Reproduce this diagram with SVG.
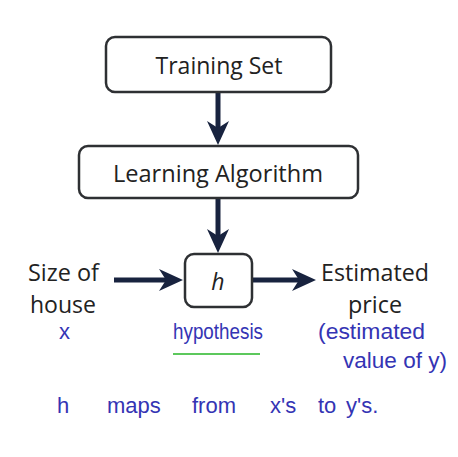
<svg xmlns="http://www.w3.org/2000/svg" width="458" height="457" viewBox="0 0 458 457">
<style>
.box{fill:#fff;stroke:#2e3033;stroke-width:2.5}
.lbl{font-family:"Open Sans","Liberation Sans",sans-serif;fill:#222;font-size:23px}
.hand{font-family:"Liberation Sans","DejaVu Sans",sans-serif;fill:#3434b4;font-size:22px}
.arr{stroke:#18233f;stroke-width:5;fill:none;marker-end:url(#ah)}
</style>
<defs>
<marker id="ah" viewBox="0 0 24 24" refX="7" refY="12" markerWidth="24" markerHeight="24" markerUnits="userSpaceOnUse" orient="auto">
<path d="M0,1 L24,12 L0,23 L7,12 Z" fill="#18233f"/>
</marker>
</defs>
<rect width="458" height="457" fill="#fff"/>
<g id="connectors">
<line class="arr" x1="218" y1="92" x2="218" y2="128"/>
<line class="arr" x1="218" y1="198" x2="218" y2="236"/>
<line class="arr" x1="114" y1="280" x2="166" y2="280"/>
<line class="arr" x1="252" y1="280" x2="299" y2="280"/>
</g>
<g id="training-set">
<rect class="box" x="106" y="37" width="225" height="55" rx="9"/>
<text class="lbl" x="219" y="74" text-anchor="middle" textLength="127" lengthAdjust="spacingAndGlyphs">Training Set</text>
</g>
<g id="learning-algorithm">
<rect class="box" x="79" y="146" width="279" height="52" rx="9"/>
<text class="lbl" x="218" y="182" text-anchor="middle" textLength="210" lengthAdjust="spacingAndGlyphs">Learning Algorithm</text>
</g>
<g id="h">
<rect class="box" x="185" y="254" width="67" height="53" rx="9"/>
<text class="lbl" x="218" y="290" text-anchor="middle" font-style="italic" font-size="25">h</text>
</g>
<g id="input">
<text class="lbl" x="28" y="281" textLength="71" lengthAdjust="spacingAndGlyphs">Size of</text>
<text class="lbl" x="30" y="313" textLength="66" lengthAdjust="spacingAndGlyphs">house</text>
<text class="hand" x="59" y="339" font-size="20">x</text>
</g>
<g id="output">
<text class="lbl" x="321" y="281" textLength="108" lengthAdjust="spacingAndGlyphs">Estimated</text>
<text class="lbl" x="348" y="313" textLength="54" lengthAdjust="spacingAndGlyphs">price</text>
<text class="hand" x="318" y="339" textLength="107" lengthAdjust="spacingAndGlyphs">(estimated</text>
<text class="hand" x="343" y="368" textLength="104" lengthAdjust="spacingAndGlyphs">value of y)</text>
</g>
<g id="hypothesis">
<text class="hand" x="173" y="339" textLength="90" lengthAdjust="spacingAndGlyphs">hypothesis</text>
<line x1="173" y1="354" x2="260" y2="354" stroke="#5cc85c" stroke-width="2"/>
</g>
<g id="note">
<text class="hand" y="413" font-size="24"><tspan x="57">h</tspan> <tspan x="107">maps</tspan> <tspan x="192">from</tspan> <tspan x="270">x's</tspan> <tspan x="318">to</tspan> <tspan x="346">y's.</tspan></text>
</g>
</svg>
